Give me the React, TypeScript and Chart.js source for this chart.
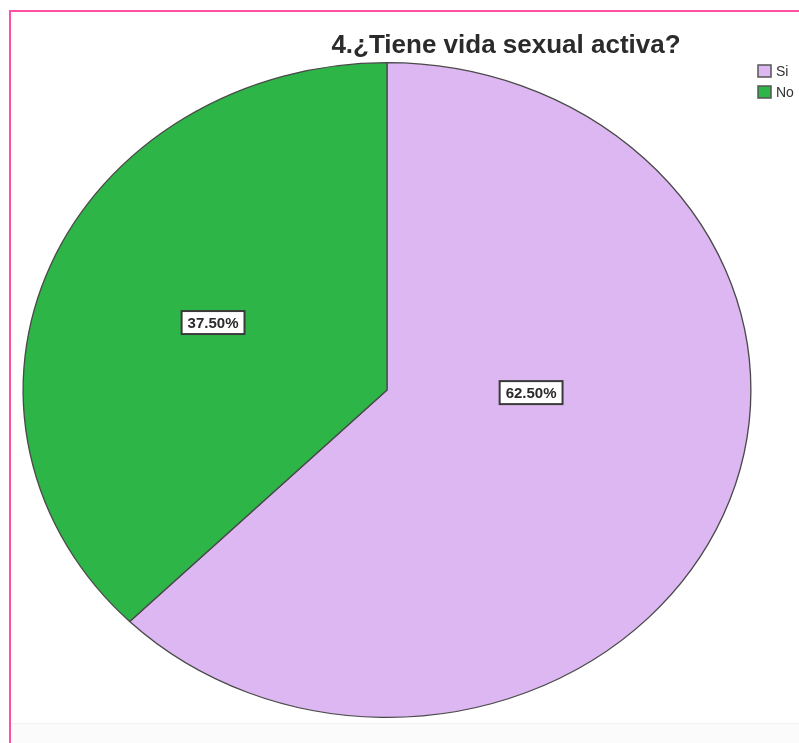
import React, { useEffect, useRef } from "react";
import { Chart, registerables } from "chart.js";

Chart.register(...registerables);

const categories = ["Si", "No"];
const percentages = [62.5, 37.5];
const sliceColors = ["#DDB7F1", "#2DB548"];
const chartTitle = "4.¿Tiene vida sexual activa?";

const W = 799;
const H = 743;
const FONT = "'Liberation Sans', Arial, sans-serif";
// the reference pie is an ellipse (horizontally stretched)
const STRETCH_X = 364 / 327.5;
// label placement, in units of the ellipse radii from the centre
const LABEL_POS = [
  [0.396, 0.008],
  [-0.478, -0.206],
];

const framePlugin = {
  id: "frame",
  beforeDraw(chart: any) {
    const ctx = chart.ctx;
    ctx.save();
    ctx.fillStyle = "#ffffff";
    ctx.fillRect(0, 0, W, H);
    ctx.fillStyle = "#FBFBFB";
    ctx.fillRect(11, 723, W - 11, H - 723);
    ctx.fillStyle = "#F3F3F3";
    ctx.fillRect(11, 723, W - 11, 1);
    ctx.fillStyle = "#FF4FA6";
    ctx.fillRect(9, 10, 2, H - 10);
    ctx.fillRect(9, 10, W - 9, 2);
    ctx.restore();
  },
};

const stretchPlugin = {
  id: "stretch",
  beforeDatasetsDraw(chart: any) {
    const arc = chart.getDatasetMeta(0).data[0];
    const ctx = chart.ctx;
    ctx.save();
    ctx.translate(arc.x, arc.y);
    ctx.scale(STRETCH_X, 1);
    ctx.translate(-arc.x, -arc.y);
  },
  afterDatasetsDraw(chart: any) {
    chart.ctx.restore();
  },
};

const decorPlugin = {
  id: "decor",
  afterDraw(chart: any) {
    const ctx = chart.ctx;
    const meta = chart.getDatasetMeta(0);
    ctx.save();
    // title
    ctx.fillStyle = "#2b2b2b";
    ctx.font = `bold 26px ${FONT}`;
    ctx.textAlign = "center";
    ctx.textBaseline = "alphabetic";
    ctx.fillText(chartTitle, 506, 53);

    // legend
    ctx.font = `14px ${FONT}`;
    ctx.textAlign = "left";
    ctx.textBaseline = "middle";
    chart.data.labels.forEach((lab: string, i: number) => {
      const y = 65 + i * 21;
      ctx.fillStyle = chart.data.datasets[0].backgroundColor[i];
      ctx.fillRect(758, y, 13, 12);
      ctx.strokeStyle = "#555";
      ctx.lineWidth = 1.5;
      ctx.strokeRect(758, y, 13, 12);
      ctx.fillStyle = "#333";
      ctx.fillText(lab, 776, y + 7);
    });

    // value labels
    ctx.font = `bold 15px ${FONT}`;
    ctx.textAlign = "center";
    ctx.textBaseline = "middle";
    meta.data.forEach((arc: any, i: number) => {
      const rx = arc.outerRadius * STRETCH_X;
      const ry = arc.outerRadius;
      const px = arc.x + LABEL_POS[i][0] * rx;
      const py = arc.y + LABEL_POS[i][1] * ry;
      const txt = Number(chart.data.datasets[0].data[i]).toFixed(2) + "%";
      const tw = ctx.measureText(txt).width;
      const bw = tw + 12;
      const bh = 23;
      ctx.fillStyle = "#ffffff";
      ctx.fillRect(px - bw / 2, py - bh / 2, bw, bh);
      ctx.strokeStyle = "#3a3a3a";
      ctx.lineWidth = 2;
      ctx.strokeRect(px - bw / 2, py - bh / 2, bw, bh);
      ctx.fillStyle = "#2a2a2a";
      ctx.fillText(txt, px, py + 1);
    });
    ctx.restore();
  },
};

export default function App() {
  const ref = useRef<HTMLCanvasElement | null>(null);
  useEffect(() => {
    if (!ref.current) return;
    const chart = new Chart(ref.current, {
      type: "pie",
      data: {
        labels: categories,
        datasets: [
          {
            data: percentages,
            backgroundColor: sliceColors,
            borderColor: "#4a4a4a",
            borderWidth: 1.2,
            clip: false as any,
          },
        ],
      },
      options: {
        responsive: false,
        animation: false,
        layout: { padding: { left: 59, right: 84, top: 62, bottom: 25 } },
        plugins: {
          legend: { display: false },
          title: { display: false },
          tooltip: { enabled: false },
        },
      },
      plugins: [framePlugin, stretchPlugin, decorPlugin],
    });
    return () => chart.destroy();
  }, []);
  return (
    <div style={{ position: "fixed", left: 0, top: 0, width: W, height: H, background: "#fff" }}>
      <canvas ref={ref} width={W} height={H} style={{ display: "block", width: W, height: H }} />
    </div>
  );
}
